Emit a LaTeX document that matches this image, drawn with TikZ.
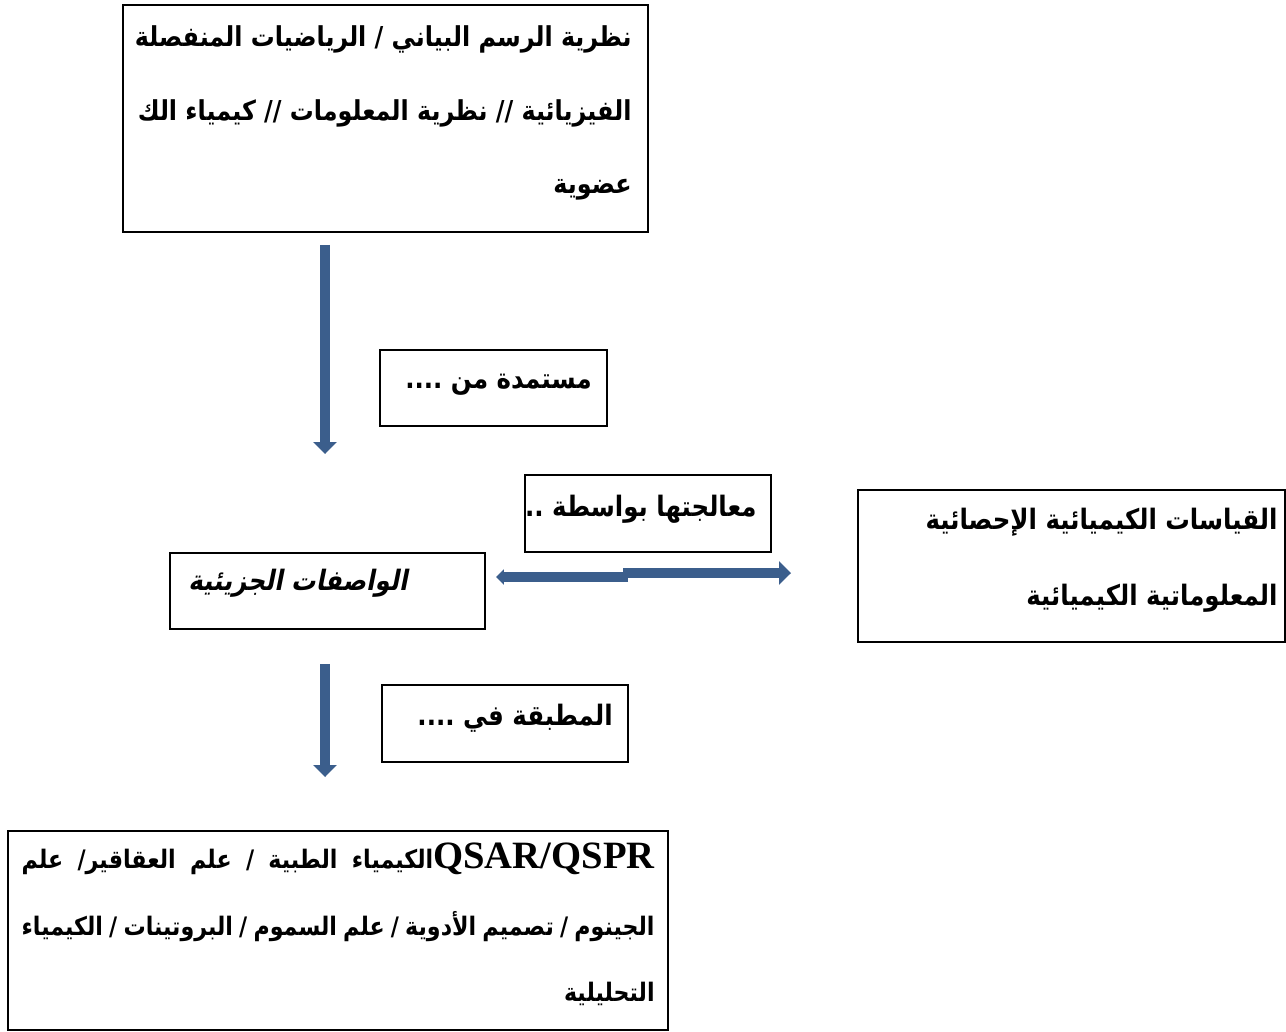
\documentclass[tikz,border=0pt]{standalone}
\usepackage{fontspec}
\setmainfont{Liberation Serif}
\newfontfamily\arabicfont[Script=Arabic,FakeStretch=0.87]{DejaVu Sans}
\newfontfamily\arabicslant[Script=Arabic,FakeStretch=0.87,FakeSlant=0.2]{DejaVu Sans}
\TeXXeTstate=1
\newcommand\arline[1]{\beginR #1\endR}
\usetikzlibrary{arrows.meta}
\definecolor{arrowblue}{RGB}{59,94,140}

\begin{document}
\begin{tikzpicture}[
    box/.style={draw, line width=1.1pt, inner sep=0pt},
    txt/.style={font=\arabicfont\bfseries\fontsize{16}{41.7}\selectfont, align=right, inner sep=0pt},
    bigarrow/.style={arrowblue, line width=5.7pt, -{Triangle[width=0.46cm,length=0.24cm]}}
  ]
  \useasboundingbox (0,0) rectangle (25.72,-20.64);

  \node[box, minimum width=10.5cm, minimum height=4.54cm] (src) at (7.71,-2.37) {};
  \node[box, minimum width=4.54cm, minimum height=1.52cm] (from) at (9.87,-7.76) {};
  \node[box, minimum width=4.92cm, minimum height=1.54cm] (proc) at (12.96,-10.27) {};
  \node[box, minimum width=6.3cm, minimum height=1.52cm] (desc) at (6.55,-11.82) {};
  \node[box, minimum width=8.54cm, minimum height=3.04cm] (stat) at (21.43,-11.32) {};
  \node[box, minimum width=4.92cm, minimum height=1.54cm] (used) at (10.1,-14.47) {};
  \node[box, minimum width=13.2cm, minimum height=3.98cm] (app) at (6.76,-18.61) {};

  \node[txt, anchor=east, font=\arabicfont\bfseries\fontsize{15.6}{41.7}\selectfont] (srctxt) at (12.64,-2.26)
    {\arline{نظرية الرسم البياني / الرياضيات المنفصلة}\\
     \arline{الفيزيائية // نظرية المعلومات // كيمياء الك}\\
     \arline{عضوية}};
  \node[txt, anchor=east] (fromtxt) at (11.84,-7.7) {\arline{مستمدة من ....}};
  \node[txt, anchor=east] (proctxt) at (15.14,-10.18) {\arline{معالجتها بواسطة ..}};
  \node[txt, anchor=west, font=\arabicslant\bfseries\fontsize{16}{18}\selectfont] (desctxt) at (3.76,-11.66)
    {\arline{الواصفات الجزيئية}};
  \node[txt, anchor=east, font=\arabicfont\bfseries\fontsize{16}{43}\selectfont] (stattxt) at (25.56,-11.2)
    {\arline{القياسات الكيميائية الإحصائية}\\
     \arline{المعلوماتية الكيميائية}};
  \node[txt, anchor=east] (usedtxt) at (12.26,-14.36) {\arline{المطبقة في ....}};
  \node[txt, anchor=east, font=\arabicfont\bfseries\fontsize{14.5}{37.7}\selectfont] (apptxt) at (13.1,-18.49)
    {\makebox[12.66cm][s]{\arline{{\rmfamily\bfseries\fontsize{22}{26}\selectfont\beginL QSAR/QSPR\endL}الكيمياء الطبية / علم العقاقير/ علم}}\\
     \makebox[12.66cm][s]{\arline{الجينوم / تصميم الأدوية / علم السموم / البروتينات / الكيمياء}}\\
     \arline{التحليلية}};

  \draw[bigarrow, shorten <=0.24cm, shorten >=1.96cm] ([xshift=-0.05cm]desc.north |- src.south) -- ([xshift=-0.05cm]desc.north);
  \draw[bigarrow, shorten <=0.68cm, shorten >=1.06cm] ([xshift=-0.05cm]desc.south) -- ([xshift=-0.05cm]desc.south |- app.north);

  \coordinate (split) at (12.5,-11.5);
  \draw[bigarrow, -{Triangle[width=0.3cm,length=0.16cm]}, shorten >=0.2cm]
    ([xshift=0.06cm,yshift=-0.04cm]split) -- ([yshift=-0.04cm]split -| desc.east);
  \draw[bigarrow, shorten >=1.32cm]
    ([xshift=-0.04cm,yshift=0.04cm]split) -- ([yshift=0.04cm]split -| stat.west);
\end{tikzpicture}
\end{document}
